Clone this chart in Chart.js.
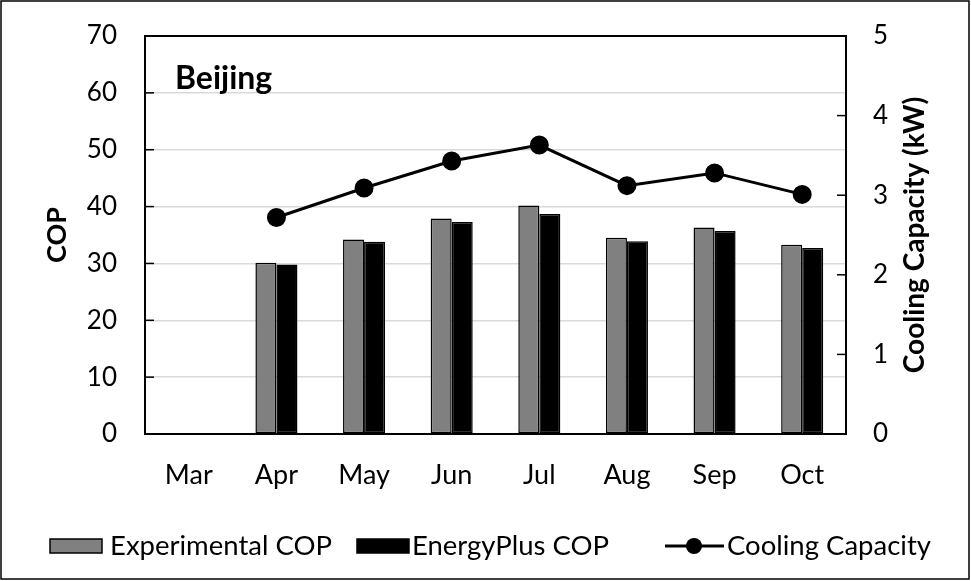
<!DOCTYPE html>
<html>
<head>
<meta charset="utf-8">
<script src="https://cdn.jsdelivr.net/npm/chart.js@4.4.1/dist/chart.umd.min.js"></script>
<style>
  html, body { margin: 0; padding: 0; background: #fff; }
  #wrap { width: 971px; height: 581px; position: relative; }
</style>
</head>
<body>
<div id="wrap"><canvas id="c" width="971" height="581"></canvas></div>
<script>
const months = ['Mar', 'Apr', 'May', 'Jun', 'Jul', 'Aug', 'Sep', 'Oct'];
const experimentalCOP = [null, 30.1, 34.2, 37.9, 40.2, 34.5, 36.3, 33.3];
const energyPlusCOP = [null, 29.8, 33.8, 37.3, 38.7, 33.9, 35.7, 32.7];
const coolingCapacity = [null, 2.72, 3.09, 3.43, 3.63, 3.12, 3.28, 3.01];
const copTicks = [0, 10, 20, 30, 40, 50, 60, 70];
const capTicks = [0, 1, 2, 3, 4, 5];

const FONT = 'Lato, Carlito, Calibri, "Liberation Sans", sans-serif';

const decor = {
  id: 'decor',
  afterDraw(chart) {
    const ctx = chart.ctx;
    const a = chart.chartArea;
    const yL = chart.scales.y, yR = chart.scales.y1;
    ctx.save();
    ctx.strokeStyle = '#000';
    ctx.lineWidth = 2;
    ctx.strokeRect(a.left, a.top, a.right - a.left, a.bottom - a.top);
    ctx.lineWidth = 1.5;
    copTicks.forEach(v => {
      if (v === 0 || v === 70) return;
      const y = yL.getPixelForValue(v);
      ctx.beginPath(); ctx.moveTo(a.left, y); ctx.lineTo(a.left + 9, y); ctx.stroke();
    });
    capTicks.forEach(v => {
      if (v === 0 || v === 5) return;
      const y = yR.getPixelForValue(v);
      ctx.beginPath(); ctx.moveTo(a.right, y); ctx.lineTo(a.right - 9, y); ctx.stroke();
    });
    ctx.lineWidth = 1.5;
    ctx.strokeRect(1, 1, 968, 578);
    ctx.fillStyle = '#000';
    ctx.font = 'bold 32px ' + FONT;
    ctx.textAlign = 'left'; ctx.textBaseline = 'alphabetic';
    ctx.fillText('Beijing', 175, 89);
    const cy = (a.top + a.bottom) / 2;
    ctx.textAlign = 'center'; ctx.textBaseline = 'middle';
    ctx.font = 'bold 27px ' + FONT;
    ctx.save(); ctx.translate(57, cy); ctx.rotate(-Math.PI / 2); ctx.fillText('COP', 0, 0); ctx.restore();
    ctx.font = 'bold 28px ' + FONT;
    ctx.save(); ctx.translate(915, cy); ctx.rotate(-Math.PI / 2); ctx.fillText('Cooling Capacity (kW)', 0, 0); ctx.restore();
    const ds = chart.data.datasets;
    ctx.font = '27.5px ' + FONT;
    ctx.textAlign = 'left'; ctx.textBaseline = 'middle';
    const ly = 546;
    ctx.fillStyle = ds[1].backgroundColor; ctx.strokeStyle = '#000'; ctx.lineWidth = 1.5;
    ctx.fillRect(50, ly - 7, 52, 14); ctx.strokeRect(50, ly - 7, 52, 14);
    ctx.fillStyle = '#000'; ctx.fillText(ds[1].label, 110, ly);
    ctx.fillStyle = ds[2].backgroundColor;
    ctx.fillRect(357, ly - 7, 52, 14); ctx.strokeRect(357, ly - 7, 52, 14);
    ctx.fillStyle = '#000'; ctx.fillText(ds[2].label, 412, ly);
    ctx.lineWidth = 3;
    ctx.beginPath(); ctx.moveTo(665, ly); ctx.lineTo(724, ly); ctx.stroke();
    ctx.beginPath(); ctx.arc(694, ly, 8, 0, Math.PI * 2); ctx.fill();
    ctx.fillText(ds[0].label, 727, ly);
    ctx.restore();
  }
};

function noPad(s) { s.paddingTop = 0; s.paddingBottom = 0; s.paddingLeft = 0; s.paddingRight = 0; }

new Chart(document.getElementById('c'), {
  data: {
    labels: months,
    datasets: [
      {
        type: 'line', label: 'Cooling Capacity', data: coolingCapacity, yAxisID: 'y1',
        borderColor: '#000', backgroundColor: '#000', borderWidth: 3,
        pointRadius: 8, pointBackgroundColor: '#000', pointBorderColor: '#000',
        spanGaps: true, order: 0
      },
      {
        type: 'bar', label: 'Experimental COP', data: experimentalCOP, yAxisID: 'y',
        backgroundColor: '#808080', borderColor: '#000', borderWidth: 1.5, borderSkipped: false,
        categoryPercentage: 0.48, barPercentage: 1, order: 1
      },
      {
        type: 'bar', label: 'EnergyPlus COP', data: energyPlusCOP, yAxisID: 'y',
        backgroundColor: '#000', borderColor: '#000', borderWidth: 1.5, borderSkipped: false,
        categoryPercentage: 0.48, barPercentage: 1, order: 1
      }
    ]
  },
  options: {
    responsive: false,
    animation: false,
    layout: { padding: { top: 36, left: 0, right: 0, bottom: 0 } },
    plugins: { legend: { display: false }, tooltip: { enabled: false } },
    scales: {
      x: {
        type: 'category',
        offset: true,
        grid: { display: false, drawTicks: false },
        border: { display: true, color: '#000', width: 2 },
        ticks: { color: '#000', font: { family: FONT, size: 27 }, padding: 25, maxRotation: 0 },
        afterFit(s) { s.height = 147; noPad(s); }
      },
      y: {
        position: 'left', min: 0, max: 70,
        ticks: { stepSize: 10, color: '#000', font: { family: FONT, size: 26 }, padding: 28 },
        grid: { color: '#d9d9d9', lineWidth: 1.5, drawTicks: false },
        border: { display: true, color: '#000', width: 2 },
        afterFit(s) { s.width = 145; noPad(s); }
      },
      y1: {
        position: 'right', min: 0, max: 5,
        ticks: { stepSize: 1, color: '#000', font: { family: FONT, size: 26 }, padding: 27 },
        grid: { drawOnChartArea: false, drawTicks: false },
        border: { display: true, color: '#000', width: 2 },
        afterFit(s) { s.width = 125; noPad(s); }
      }
    }
  },
  plugins: [decor]
});
</script>
</body>
</html>
